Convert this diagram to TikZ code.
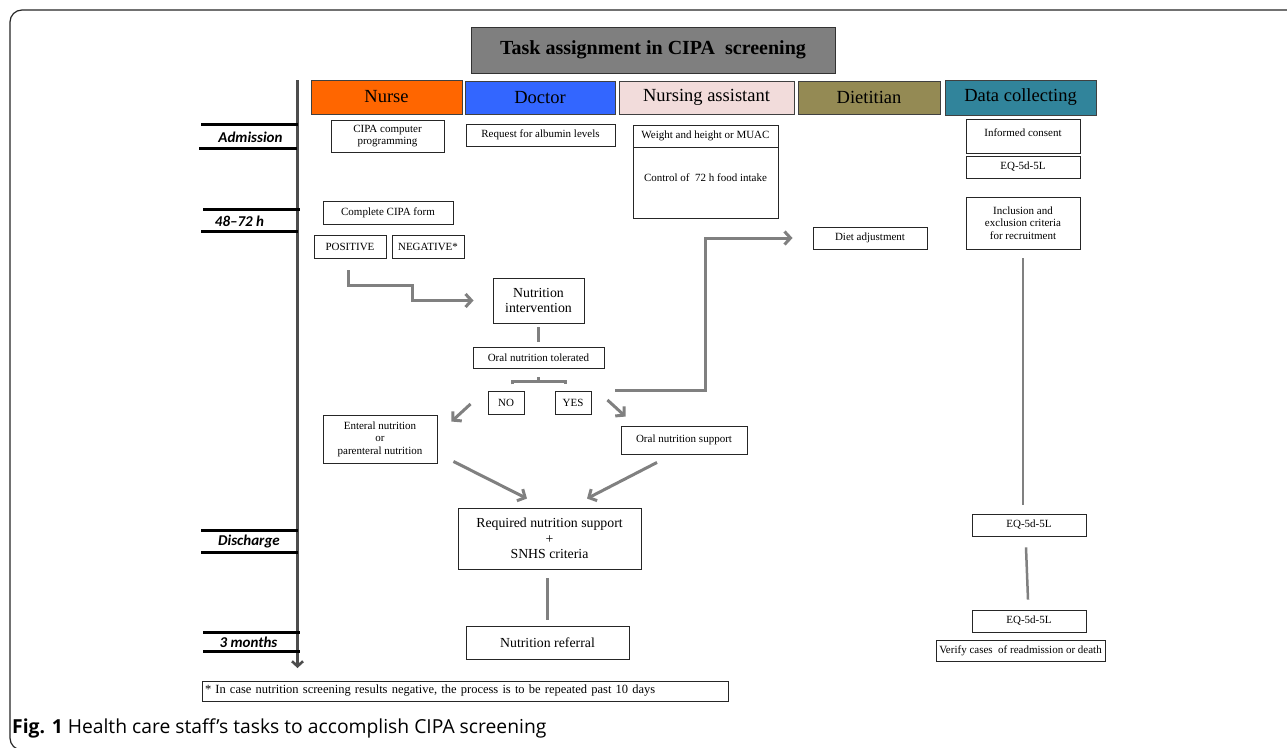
\documentclass[tikz,border=0pt]{standalone}
\usepackage{fontspec}
\setmainfont{Liberation Serif}
\newfontfamily\labfont{Carlito}
\newfontfamily\capfont{Open Sans}
\usetikzlibrary{arrows.meta,calc}
\definecolor{linegray}{HTML}{808080}
\definecolor{tlgray}{HTML}{4D4D4D}
\definecolor{titlegray}{HTML}{7F7F7F}
\definecolor{nurseC}{HTML}{FF6600}
\definecolor{doctorC}{HTML}{3366FF}
\definecolor{assistC}{HTML}{F2DCDB}
\definecolor{dietC}{HTML}{948A54}
\definecolor{dataC}{HTML}{31849B}
\tikzset{
  box/.style={draw=black!85, line width=0.9pt, inner sep=0pt, align=center,
    font=\fontsize{11}{12.5}\selectfont},
  bigbox/.style={box, font=\fontsize{13.8}{15.5}\selectfont},
  head/.style={draw=black!75, line width=0.9pt, inner sep=0pt,
    font=\fontsize{18.5}{20}\selectfont},
  conn/.style={draw=linegray, line width=3pt},
  arr/.style={conn, -{Straight Barb[length=6pt,width=13pt]}},
  tick/.style={line width=3pt, black},
  lab/.style={font=\labfont\bfseries\itshape\fontsize{15}{17}\selectfont, inner sep=0pt}
}
\begin{document}
\begin{tikzpicture}[x=1pt,y=-1pt]
\clip (0,0) rectangle (1287,747);
\useasboundingbox (0,0) rectangle (1287,747);
\fill[white] (0,0) rectangle (1287,747);
% outer frame
\draw[black!85, line width=1.2pt, rounded corners=12pt] (10,10) rectangle (1310,750);

% title
\node[draw=black!80, line width=1pt, fill=titlegray, minimum width=364, minimum height=46,
  inner sep=0pt, font=\bfseries\fontsize{20}{22}\selectfont] (title) at (653,50)
  {Task assignment in CIPA\ \ screening};

% headers
\node[head, fill=nurseC, minimum width=151, minimum height=34] (nurse) at (386.5,97) {Nurse};
\node[head, fill=doctorC, minimum width=150, minimum height=33] (doctor) at (540,97.5) {Doctor};
\node[head, fill=assistC, minimum width=175, minimum height=33] (assist) at (706.5,97.5) {Nursing assistant};
\node[head, fill=dietC, minimum width=142, minimum height=33] (diet) at (869,97.5) {Dietitian};
\node[head, fill=dataC, minimum width=151, minimum height=35] (data) at (1020.5,97.5) {Data collecting};

% timeline
\coordinate (tl0) at (297.5,80);
\coordinate (tl1) at (297.5,668);
\draw[tlgray, line width=2.6pt, -{Straight Barb[length=5pt,width=11pt]}] (tl0) -- (tl1);

% time labels
\draw[tick] (201,124) -- (298,124);
\draw[tick] (199,148.5) -- (297,148.5);
\node[lab] (adm) at (250.5,137) {Admission};
\draw[tick] (203,209) -- (300,209);
\draw[tick] (201,231) -- (298,231);
\node[lab] (h48) at (239.5,221) {48–72 h};
\draw[tick] (201,530) -- (298,530);
\draw[tick] (201,552) -- (298,552);
\node[lab] (dis) at (249,541) {Discharge};
\draw[tick] (203,632) -- (300,632);
\draw[tick] (203,651) -- (300,651);
\node[lab] (m3) at (248.5,642) {3 months};

% nurse column
\node[box, minimum width=113, minimum height=32] (cipa) at (387.5,136) {CIPA computer\\programming};
\node[box, minimum width=130, minimum height=23] (form) at (388,212.5) {Complete CIPA form};
\node[box, minimum width=72, minimum height=23] (pos) at (350,246.5) {POSITIVE};
\node[box, minimum width=72, minimum height=23] (neg) at (428,246.5) {NEGATIVE*};

% doctor
\node[box, minimum width=149, minimum height=22] (alb) at (540.5,135) {Request for albumin levels};

% nursing assistant
\node[box, minimum width=145, minimum height=22] (wh) at (705.5,136) {Weight and height or MUAC};
\node[box, minimum width=145, minimum height=71, anchor=north] (ctl) at (705.5,147)
  {\raisebox{10pt}{Control of\ \ 72 h food intake}};

% dietitian
\node[box, minimum width=114, minimum height=22] (dadj) at (870,238) {Diet adjustment};

% data collecting
\node[box, minimum width=114, minimum height=34] (cons) at (1023,136) {\raisebox{6pt}{Informed consent}};
\node[box, minimum width=114, minimum height=22] (eq1) at (1023,167) {EQ-5d-5L};
\node[box, minimum width=114, minimum height=52] (incl) at (1023,223)
  {Inclusion and\\exclusion criteria\\for recruitment};
\node[box, minimum width=114, minimum height=22] (eq2) at (1029,525) {EQ-5d-5L};
\node[box, minimum width=114, minimum height=22] (eq3) at (1029,621) {EQ-5d-5L};
\node[box, minimum width=169, minimum height=21] (ver) at (1020.5,650.5) {Verify cases\ \ of readmission or death};
\draw[conn, line width=2.5pt, shorten <=9pt, shorten >=9pt] (incl.south) -- (incl.south |- eq2.north);
\draw[conn, line width=2.5pt] ($(eq2.south)+(-3,11)$) -- ($(eq3.north)+(-1,-10)$);

% central flow
\node[bigbox, minimum width=91, minimum height=45] (nutint) at (538.5,300.5) {Nutrition\\intervention};
\node[box, minimum width=131, minimum height=21] (oral) at (538.5,357.5) {Oral nutrition tolerated};
\node[box, minimum width=36, minimum height=23] (no) at (506,402.5) {NO};
\node[box, minimum width=36, minimum height=23] (yes) at (573,402.5) {YES};
\node[box, minimum width=114, minimum height=48] (ent) at (380,439)
  {Enteral nutrition\\or\\parenteral nutrition};
\node[box, minimum width=126, minimum height=28] (ons) at (684,440) {Oral nutrition support};
\node[bigbox, minimum width=183, minimum height=61] (req) at (549.5,538.5)
  {Required nutrition support\\+\\SNHS criteria};
\node[bigbox, minimum width=163, minimum height=33] (ref) at (547.5,642.5) {Nutrition referral};

% connectors
\draw[arr, shorten >=19pt] ($(pos.south)+(-2,12)$) -- ++(0,15) -- ++(64,0) |- (nutint.west);
\draw[conn, line width=2.5pt, shorten <=4pt, shorten >=5pt] (nutint.south) -- (oral.north);
\draw[conn, line width=2.5pt] ($(oral.south)+(-26,16)$) -- ++(0,-3) -- ++(53,0) -- ++(0,3);
\draw[conn, line width=2.5pt] ($(oral.south)+(0,13)$) -- ++(0,-4);
\draw[arr] ($(no.west)+(-17,1.5)$) -- ($(ent.north east)+(14,7)$);
\draw[arr] ($(yes.east)+(16,-2.5)$) -- ($(ons.north west)+(5,-9)$);
\draw[arr, shorten >=20pt] ($(yes.north east)+(24,0)$) -- ++(90,0) |- (dadj.west);
\draw[arr] ($(ent.south east)+(16,-2)$) -- ($(req.north)+(-22.5,-9)$);
\draw[arr] ($(ons.south)+(-27,8)$) -- ($(req.north)+(37.5,-9)$);
\draw[conn, line width=2.5pt, shorten <=9pt, shorten >=6pt] (ref.north |- req.south) -- (ref.north);

% footnote
\node[draw=black!85, line width=0.9pt, minimum width=526, minimum height=20, inner sep=0pt,
  text width=520, align=left, font=\fontsize{12.5}{13}\selectfont] (foot) at (465,691)
  {* In case nutrition screening results negative, the process is to be repeated past 10 days};

% caption
\node[anchor=base west, inner sep=0pt, font=\capfont\fontsize{19.3}{21}\selectfont] (cap) at (12,733)
  {\textbf{Fig. 1} Health care staff’s tasks to accomplish CIPA screening};
\end{tikzpicture}
\end{document}
